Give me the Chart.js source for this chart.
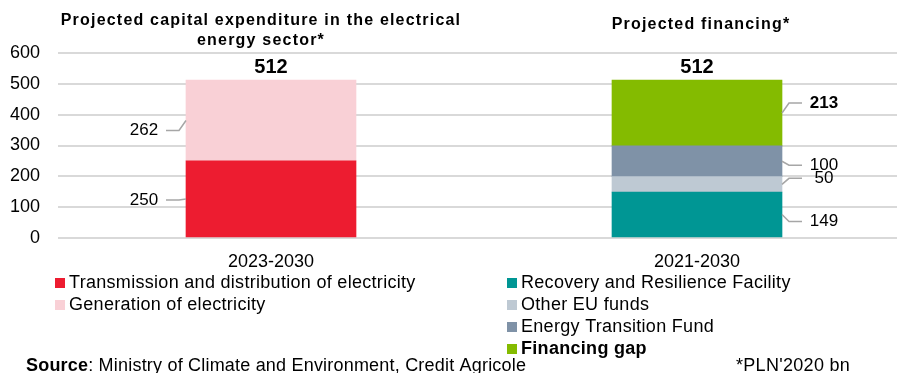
<!DOCTYPE html>
<html lang="en">
<head>
  <meta charset="UTF-8">
  <title>Projected capital expenditure and financing</title>
  <script src="https://cdn.jsdelivr.net/npm/chart.js"></script>
  <style>
    body {
      margin: 0;
      background: #fff;
      font-family: 'Liberation Sans', Arial, sans-serif;
    }
    #wrap {
      width: 897px;
      height: 373px;
      overflow: hidden;
    }
  </style>
</head>
<body>

  <div id="wrap">
    <canvas id="capexChart" width="910" height="373"></canvas>
  </div>

  <script>
    // data
    const categories = ['2023-2030', '2021-2030'];
    const seriesNames = [
      'Transmission and distribution of electricity',
      'Generation of electricity',
      'Recovery and Resilience Facility',
      'Other EU funds',
      'Energy Transition Fund',
      'Financing gap'
    ];
    const transmission = [250, null];
    const generation = [262, null];
    const recovery = [null, 149];
    const otherEu = [null, 50];
    const transitionFund = [null, 100];
    const financingGap = [null, 213];
    const yTicks = [0, 100, 200, 300, 400, 500, 600];
    const panelTitles = [
      ['Projected capital expenditure in the electrical', 'energy sector*'],
      ['Projected financing*']
    ];

    const seriesValues = [transmission, generation, recovery, otherEu, transitionFund, financingGap];
    const seriesColors = ['#ED1C30', '#F9D0D6', '#009694', '#BEC9D3', '#7F92A7', '#84BB00'];
    const boldSeries = [false, false, false, false, false, true];
    // small vertical nudges so the value labels don't collide
    const labelShift = [1, 10, 7, -6, 4, -10];

    const FONT = "'Liberation Sans', Arial, sans-serif";

    const labelsPlugin = {
      id: 'labels',
      afterDraw(chart) {
        const ctx = chart.ctx;
        const xs = chart.scales.x;
        const ys = chart.scales.y;
        ctx.save();
        ctx.fillStyle = '#000';

        // panel titles
        ctx.textAlign = 'center';
        ctx.textBaseline = 'middle';
        ctx.font = 'bold 16px ' + FONT;
        ctx.letterSpacing = '1.2px';
        ctx.fillText(panelTitles[0][0], xs.getPixelForValue(0) - 10, 21);
        ctx.fillText(panelTitles[0][1], xs.getPixelForValue(0) - 10, 41);
        ctx.fillText(panelTitles[1][0], xs.getPixelForValue(1) + 4, 25);
        ctx.letterSpacing = '0px';

        // totals above the stacks
        ctx.font = 'bold 20px ' + FONT;
        categories.forEach((c, i) => {
          const total = seriesValues.reduce((s, v) => s + (v[i] || 0), 0);
          ctx.fillText(String(total), xs.getPixelForValue(i), ys.getPixelForValue(total) - 13);
        });

        // segment values with leader lines
        chart.data.datasets.forEach((ds, di) => {
          const meta = chart.getDatasetMeta(di);
          ds.data.forEach((v, i) => {
            if (v == null) return;
            const bar = meta.data[i];
            const midY = (bar.y + bar.base) / 2;
            const side = i === 0 ? -1 : 1;
            const edge = bar.x + side * bar.width / 2;
            const ly = midY + labelShift[di];
            ctx.strokeStyle = '#A6A6A6';
            ctx.lineWidth = 1.5;
            ctx.beginPath();
            ctx.moveTo(edge, midY);
            ctx.lineTo(edge + side * 7, ly);
            ctx.lineTo(edge + side * 20, ly);
            ctx.stroke();
            ctx.font = (boldSeries[di] ? 'bold ' : '') + '17px ' + FONT;
            ctx.fillText(String(v), edge + side * 42, ly);
          });
        });

        // legend, one column per bar
        ctx.textAlign = 'left';
        ctx.letterSpacing = '0.3px';
        const colX = [55, 507];
        const rows = [0, 0];
        seriesNames.forEach((name, di) => {
          const col = seriesValues[di][0] != null ? 0 : 1;
          const cy = 283 + rows[col] * 22;
          rows[col]++;
          ctx.fillStyle = seriesColors[di];
          ctx.fillRect(colX[col], cy - 5, 10, 10);
          ctx.fillStyle = '#000';
          ctx.font = (boldSeries[di] ? 'bold ' : '') + '18px ' + FONT;
          ctx.fillText(name, colX[col] + 14, cy);
        });

        // footer
        ctx.letterSpacing = '0.2px';
        ctx.font = 'bold 18px ' + FONT;
        ctx.fillText('Source', 26, 366);
        const w = ctx.measureText('Source').width;
        ctx.font = '18px ' + FONT;
        ctx.fillText(': Ministry of Climate and Environment, Credit Agricole', 26 + w, 366);
        ctx.letterSpacing = '0.3px';
        ctx.fillText("*PLN'2020 bn", 736, 366);
        ctx.restore();
      }
    };

    const ctx = document.getElementById('capexChart').getContext('2d');
    const capexChart = new Chart(ctx, {
      type: 'bar',
      data: {
        labels: categories,
        datasets: seriesNames.map((name, i) => ({
          label: name,
          data: seriesValues[i],
          backgroundColor: seriesColors[i],
          borderWidth: 0,
          barThickness: 170,
          skipNull: true
        }))
      },
      options: {
        responsive: false,
        animation: false,
        layout: { padding: { top: 53, left: 0, right: 0, bottom: 0 } },
        scales: {
          x: {
            stacked: true,
            grid: { display: false },
            border: { display: false },
            ticks: { color: '#000', font: { family: FONT, size: 18 }, padding: 5 },
            afterFit(scale) { scale.height = 135; }
          },
          y: {
            stacked: true,
            min: 0,
            max: 600,
            afterBuildTicks(scale) { scale.ticks = yTicks.map(v => ({ value: v })); },
            grid: { color: '#D9D9D9', lineWidth: 2, drawTicks: false },
            border: { display: false },
            ticks: { color: '#000', font: { family: FONT, size: 18 }, padding: 18 },
            afterFit(scale) { scale.width = 58; }
          }
        },
        plugins: {
          legend: { display: false },
          tooltip: { enabled: false }
        }
      },
      plugins: [labelsPlugin]
    });
  </script>

</body>
</html>
